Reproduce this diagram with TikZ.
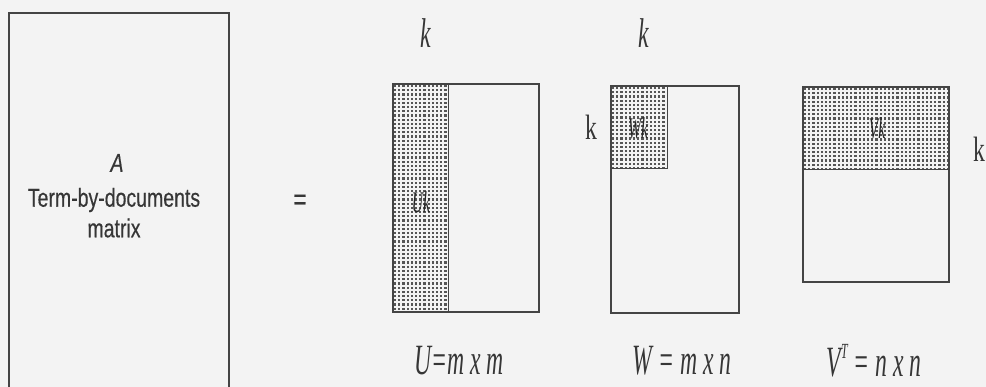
\documentclass[tikz,border=0pt]{standalone}
\usepackage{fontspec}
\usepackage{graphicx}
\setmainfont{Liberation Serif}
\newfontfamily\asans[FakeStretch=0.75,FakeBold=0.4]{Liberation Sans}
\newfontfamily\kser[FakeStretch=0.74]{Liberation Serif}
\definecolor{ink}{HTML}{444444}
\definecolor{tink}{HTML}{363636}
\definecolor{paper}{HTML}{F3F3F3}
\definecolor{dotc}{HTML}{555555}
\newcommand\dotregion[4]{%
  \begin{scope}
  \clip (#1,#2) rectangle (#3,#4);
  \pgfmathsetmacro\xs{#1+1.0}\pgfmathsetmacro\xn{#1+5.2}
  \pgfmathsetmacro\ys{#2+1.0}\pgfmathsetmacro\yn{#2+5.2}
  \foreach \x in {\xs,\xn,...,#3}{\foreach \y in {\ys,\yn,...,#4}{\fill[dotc] (\x,\y) rectangle ++(2.2,2.2);}}
  \end{scope}}
\tikzset{
  mline/.style={draw=ink, line width=1.3pt},
  sline/.style={draw=ink, line width=1pt},
  sanslbl/.style={text=tink, font=\asans\fontsize{26}{28}\selectfont, inner sep=0pt},
  klbl/.style={text=tink, font=\kser\itshape\fontsize{32}{32}\selectfont, inner sep=0pt},
  kup/.style={text=tink, font=\kser\fontsize{32}{32}\selectfont, inner sep=0pt},
  sublbl/.style={text=black!85, font=\kser\itshape\fontsize{30}{30}\selectfont, inner sep=0pt},
  botlbl/.style={text=tink, font=\kser\itshape\fontsize{32}{32}\selectfont, inner sep=0pt}
}
\begin{document}
\begin{tikzpicture}[x=1pt,y=-1pt]
\useasboundingbox (0,0) rectangle (986,387);
\fill[paper] (0,0) rectangle (986,387);
% A matrix
\begin{scope}
\clip (0,0) rectangle (986,387);
\draw[mline] (9,400) -- (9,13) -- (229,13) -- (229,400);
\end{scope}
\node[sanslbl, font=\asans\itshape\fontsize{26}{28}\selectfont] (A) at (117,163) {A};
\node[sanslbl] (term) at (114,200) {Term-by-documents};
\node[sanslbl] (matrix) at (114,228) {matrix};
\node[sanslbl, font=\asans\fontsize{30}{30}\selectfont] (eq) at (300,202) {=};
% U
\dotregion{393}{84}{448}{312}
\draw[sline] (448,84) -- (448,312);
\draw[mline] (393,84) rectangle (539,312);
\node[klbl] (kU) at (426,33) {\scalebox{1}[1.3]{k}};
\node[sublbl] (Uk) at (421,202) {\scalebox{0.7}[1]{Uk}};
\node[botlbl] (Ulbl) at (459,361) {\scalebox{1}[1.35]{U=m x m}};
% W
\dotregion{611}{86}{667}{169}
\draw[sline] (667,86) -- (667,169) -- (611,169);
\draw[mline] (611,86) rectangle (739,313);
\node[klbl] (kW) at (644,33) {\scalebox{1}[1.3]{k}};
\node[kup] (kWl) at (591,127) {\scalebox{1}[1.1]{k}};
\node[sublbl] (Wk) at (638,128) {\scalebox{0.7}[1]{Wk}};
\node[botlbl] (Wlbl) at (682,361) {\scalebox{1}[1.35]{W = m x n}};
% V
\dotregion{803}{87}{949}{170}
\draw[sline] (803,170) -- (949,170);
\draw[mline] (803,87) rectangle (949,282);
\node[sublbl] (Vk) at (877,128) {\scalebox{0.7}[1]{Vk}};
\node[kup] (kVr) at (979,149) {\scalebox{1}[1.1]{k}};
\node[botlbl] (Vlbl) at (874,361) {\scalebox{1}[1.35]{V\raisebox{0.42em}{\fontsize{16}{16}\selectfont T} = n x n}};
\end{tikzpicture}
\end{document}
